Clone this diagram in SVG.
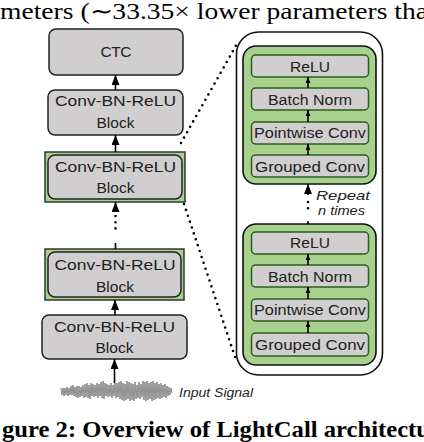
<svg xmlns="http://www.w3.org/2000/svg" width="424" height="442" viewBox="0 0 424 442">
<defs>
<style>
.gbox{fill:#d0cece;stroke:#222;stroke-width:1.5}
.gframe{fill:#a9d18e;stroke:#333;stroke-width:1.5}
.panel{fill:#a9d18e;stroke:#111;stroke-width:1.6}
.ibox{fill:#d0cece;stroke:#2a5e1c;stroke-width:1.5}
.t{font-family:'Liberation Sans',Arimo,Arial,sans-serif;font-size:15.5px;fill:#222;text-anchor:middle}
.ti{font-family:'Liberation Sans',Arimo,Arial,sans-serif;font-style:italic;fill:#222}
.arr{stroke:#000;stroke-width:1.6;fill:none}
.dot{stroke:#000;stroke-width:2.6;stroke-linecap:round;stroke-dasharray:0 6.2;fill:none}
</style>
<marker id="ah" viewBox="0 0 10 8" refX="10" refY="4" markerWidth="10" markerHeight="8" markerUnits="userSpaceOnUse" orient="auto"><path d="M0,0 L10,4 L0,8 z" fill="#000"/></marker>
<marker id="as" viewBox="0 0 10 8" refX="10" refY="4" markerWidth="6" markerHeight="5" markerUnits="userSpaceOnUse" orient="auto"><path d="M0,0 L10,4 L0,8 z" fill="#000"/></marker>
</defs>
<rect width="424" height="442" fill="#fff"/>
<text font-family="'Liberation Serif', 'Times New Roman', Times, serif" x="0" y="19" font-size="23" textLength="428" lengthAdjust="spacingAndGlyphs" fill="#000">meters (∼33.35× lower parameters tha</text>

<g id="ctc"><rect class="gbox" x="49" y="29" width="134" height="46" rx="7"/><text class="t" x="116" y="57" textLength="31">CTC</text></g>
<g id="block1"><rect class="gbox" x="48" y="90" width="135" height="45" rx="7"/><text class="t" x="115.5" y="106" textLength="121" lengthAdjust="spacingAndGlyphs">Conv-BN-ReLU</text><text class="t" x="115.5" y="128" textLength="38">Block</text></g>
<g id="block2"><rect class="gframe" x="45" y="152" width="140" height="50"/><rect class="gbox" x="48" y="155" width="134" height="44" rx="7"/><text class="t" x="115.5" y="172" textLength="121" lengthAdjust="spacingAndGlyphs">Conv-BN-ReLU</text><text class="t" x="115.5" y="193" textLength="38">Block</text></g>
<g id="block3"><rect class="gframe" x="45" y="249" width="139" height="51"/><rect class="gbox" x="48" y="252" width="133" height="45" rx="7"/><text class="t" x="115" y="270" textLength="121" lengthAdjust="spacingAndGlyphs">Conv-BN-ReLU</text><text class="t" x="115" y="292" textLength="38">Block</text></g>
<g id="block4"><rect class="gbox" x="42" y="315" width="145" height="44" rx="7"/><text class="t" x="114.5" y="332" textLength="121" lengthAdjust="spacingAndGlyphs">Conv-BN-ReLU</text><text class="t" x="114.5" y="353" textLength="38">Block</text></g>

<g id="input">
<polyline fill="none" stroke="#444" stroke-width="0.6" points="61,388 62,395 63,388 64,396 65,388 66,395 67,387 68,396 69,388 70,395 71,386 72,395 73,385 74,396 75,387 76,397 77,386 78,398 79,386 80,397 81,387 82,396 83,385 84,398 85,384 86,397 87,383 88,398 89,385 90,399 91,383 92,396 93,384 94,397 95,385 96,396 97,383 98,398 99,384 100,396 101,382 102,398 103,381 104,399 105,383 106,396 107,384 108,397 109,385 110,396 111,383 112,398 113,385 114,396 115,383 116,398 117,383 118,397 119,382 120,399 121,381 122,400 123,383 124,401 125,384 126,400 127,381 128,399 129,382 130,401 131,383 132,400 133,384 134,401 135,382 136,399 137,385 138,398 139,382 140,399 141,384 142,397 143,381 144,400 145,382 146,401 147,381 148,400 149,383 150,399 151,382 152,401 153,381 154,400 155,383 156,399 157,382 158,398 159,384 160,399 161,383 162,398 163,385 164,397 165,384 166,398 167,386 168,396 169,387 170,395 171,388 172,393"/>
<text class="ti" x="179" y="397" font-size="12.5" textLength="74" lengthAdjust="spacingAndGlyphs">Input Signal</text>
</g>

<g id="outer"><rect x="236.5" y="32" width="146" height="343" rx="22" fill="#fff" stroke="#111" stroke-width="1.6"/></g>
<g id="panel1">
<rect class="panel" x="243" y="46" width="133" height="138" rx="13"/>
<g id="relu1"><rect class="ibox" x="251.5" y="55" width="117" height="22" rx="4"/><text class="t" x="310" y="72" textLength="40">ReLU</text></g>
<g id="bn1"><rect class="ibox" x="251.5" y="88" width="117" height="22" rx="4"/><text class="t" x="310" y="105" textLength="84" lengthAdjust="spacingAndGlyphs">Batch Norm</text></g>
<g id="pw1"><rect class="ibox" x="251.5" y="122" width="117" height="22" rx="4"/><text class="t" x="310" y="138" textLength="112" lengthAdjust="spacingAndGlyphs">Pointwise Conv</text></g>
<g id="gc1"><rect class="ibox" x="251.5" y="155" width="117" height="22" rx="4"/><text class="t" x="310" y="172" textLength="110" lengthAdjust="spacingAndGlyphs">Grouped Conv</text></g>
</g>
<g id="panel2">
<rect class="panel" x="243" y="224" width="133" height="141" rx="13"/>
<g id="relu2"><rect class="ibox" x="251.5" y="232" width="117" height="22" rx="4"/><text class="t" x="310" y="248" textLength="40">ReLU</text></g>
<g id="bn2"><rect class="ibox" x="251.5" y="265" width="117" height="22" rx="4"/><text class="t" x="310" y="282" textLength="84" lengthAdjust="spacingAndGlyphs">Batch Norm</text></g>
<g id="pw2"><rect class="ibox" x="251.5" y="299" width="117" height="22" rx="4"/><text class="t" x="310" y="315" textLength="112" lengthAdjust="spacingAndGlyphs">Pointwise Conv</text></g>
<g id="gc2"><rect class="ibox" x="251.5" y="333" width="117" height="23" rx="4"/><text class="t" x="310" y="350" textLength="110" lengthAdjust="spacingAndGlyphs">Grouped Conv</text></g>
</g>
<text class="ti" x="316" y="200" font-size="13.5" textLength="54" lengthAdjust="spacingAndGlyphs">Repeat</text>
<text class="ti" x="318" y="215" font-size="13.5" textLength="47" lengthAdjust="spacingAndGlyphs">n times</text>

<g id="connectors">
<line class="arr" x1="115.5" y1="90" x2="115.5" y2="75" marker-end="url(#ah)"/>
<line class="arr" x1="115.5" y1="152" x2="115.5" y2="135" marker-end="url(#ah)"/>
<line class="arr" x1="115.5" y1="212" x2="115.5" y2="202" marker-end="url(#ah)"/>
<line class="dot" x1="115.5" y1="216" x2="115.5" y2="231"/>
<line class="arr" x1="115.5" y1="243" x2="115.5" y2="249"/>
<line class="arr" x1="115" y1="315" x2="115" y2="300" marker-end="url(#ah)"/>
<line class="arr" x1="114.5" y1="383" x2="114.5" y2="359" marker-end="url(#ah)"/>
<line class="dot" x1="181" y1="143" x2="238" y2="42"/>
<line class="dot" x1="184" y1="204" x2="235" y2="357"/>
<line class="arr" x1="308" y1="88" x2="308" y2="77" marker-end="url(#as)"/>
<line class="arr" x1="308" y1="122" x2="308" y2="110" marker-end="url(#as)"/>
<line class="arr" x1="308" y1="155" x2="308" y2="144" marker-end="url(#as)"/>
<line class="arr" x1="308" y1="265" x2="308" y2="254" marker-end="url(#as)"/>
<line class="arr" x1="308" y1="299" x2="308" y2="287" marker-end="url(#as)"/>
<line class="arr" x1="308" y1="333" x2="308" y2="321" marker-end="url(#as)"/>
<line class="arr" x1="308" y1="195" x2="308" y2="184" stroke-width="2" marker-end="url(#ah)"/>
<line class="dot" x1="308" y1="202" x2="308" y2="209"/>
<line class="arr" x1="308" y1="221" x2="308" y2="224"/>
</g>

<text font-family="'Liberation Serif', 'Times New Roman', Times, serif" x="2" y="437" font-size="23" font-weight="bold" textLength="428" lengthAdjust="spacingAndGlyphs" fill="#000">gure 2: Overview of LightCall architectu</text>
</svg>
